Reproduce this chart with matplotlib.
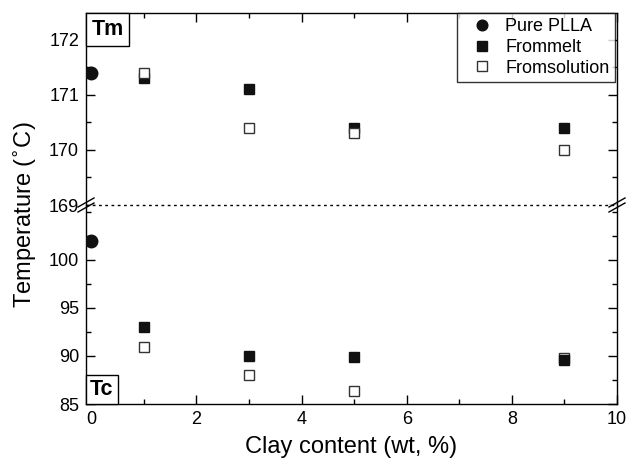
import matplotlib
matplotlib.use('Agg')
import matplotlib.pyplot as plt
from matplotlib.ticker import MultipleLocator
from matplotlib.lines import Line2D
from matplotlib.patches import Rectangle

plt.rcParams['font.family'] = ['Liberation Sans', 'DejaVu Sans']

clay = [1, 3, 5, 9]
pure_x = [0]
pure_tm = [171.4]
pure_tc = [102.0]
melt_tm = [171.3, 171.1, 170.4, 170.4]
sol_tm = [171.4, 170.4, 170.3, 170.0]
melt_tc = [93.0, 90.0, 89.9, 89.6]
sol_tc = [90.95, 88.0, 86.4, 89.8]

W, H = 638, 465
fig = plt.figure(figsize=(W / 100, H / 100), dpi=100)

x0, x1 = 86 / W, 617 / W
ytop, ybrk, ybot = 1 - 13 / H, 1 - 205 / H, 1 - 404 / H
ax_t = fig.add_axes([x0, ybrk, x1 - x0, ytop - ybrk])
ax_b = fig.add_axes([x0, ybot, x1 - x0, ybrk - ybot])

col = '#111111'
ms_c, ms_s = 9.0, 7.8
for ax, pv, mv, sv in [(ax_t, pure_tm, melt_tm, sol_tm), (ax_b, pure_tc, melt_tc, sol_tc)]:
    ax.plot(pure_x, pv, 'o', color=col, ms=ms_c, ls='none', label='Pure PLLA', zorder=5)
    ax.plot(clay, mv, 's', color=col, ms=ms_s, ls='none', label='Frommelt', zorder=4)
    ax.plot(clay, sv, 's', mfc='white', mec='#333333', mew=1.0, ms=ms_s, ls='none',
            label='Fromsolution', zorder=5 if ax is ax_t else 3)
    ax.set_xlim(-0.1, 10)
    ax.xaxis.set_major_locator(MultipleLocator(2))
    ax.xaxis.set_minor_locator(MultipleLocator(1))
    ax.tick_params(which='both', direction='in', top=True, right=True, labelsize=13, width=1.0)
    ax.tick_params(which='major', length=6.5, pad=5)
    ax.tick_params(which='minor', length=3.5)
    for s in ax.spines.values():
        s.set_linewidth(1.0)

ax_t.set_ylim(169, 172.49)
ax_t.yaxis.set_major_locator(MultipleLocator(1))
ax_t.yaxis.set_minor_locator(MultipleLocator(0.5))
ax_t.tick_params(labelbottom=False, bottom=False, which='both')
ax_t.spines['bottom'].set_visible(False)

ax_b.set_ylim(85, 105.7)
ax_b.set_yticks([85, 90, 95, 100])
ax_b.yaxis.set_minor_locator(MultipleLocator(2.5))
ax_b.tick_params(top=False, which='both')
ax_b.spines['top'].set_visible(False)

# dotted break line
fig.add_artist(Line2D([x0, x1], [ybrk, ybrk], color='black', lw=1.0, ls=(0, (2, 2.5))))
# break marks
for xc in (x0, x1):
    for dy in (-2.5, 2.5):
        yc = ybrk + dy / H
        fig.add_artist(Line2D([xc - 8 / W, xc + 8 / W], [yc - 4.5 / H, yc + 4.5 / H],
                              color='black', lw=1.0))

leg = ax_t.legend(loc='upper right', bbox_to_anchor=(0.9962, 1.0), fontsize=13,
                  frameon=True, fancybox=False, borderpad=0.3, handletextpad=0.25,
                  labelspacing=0.2, handlelength=2.1, borderaxespad=0, markerscale=0.85)
leg.get_frame().set_edgecolor('black')
leg.get_frame().set_linewidth(1.0)

# label boxes in the corners
def corner_box(px0, py0, px1, py1, label):
    fig.add_artist(Rectangle((px0 / W, 1 - py1 / H), (px1 - px0) / W, (py1 - py0) / H,
                             transform=fig.transFigure, fc='white', ec='black', lw=1.0,
                             zorder=10))
    fig.text((px0 + px1) / 2 / W, 1 - (py0 + py1) / 2 / H, label, fontsize=15.5,
             fontweight='bold', ha='center', va='center', zorder=11)

corner_box(86, 13, 129, 46, 'Tm')
corner_box(86, 375, 118, 404, 'Tc')

ax_b.set_xlabel('Clay content (wt, %)', fontsize=17, labelpad=6)
fig.text(25 / W, 1 - 215 / H, 'Temperature ($^{\\circ}$C)', rotation=90, fontsize=17,
         va='center', ha='center')

fig.savefig('out.png', dpi=100)
